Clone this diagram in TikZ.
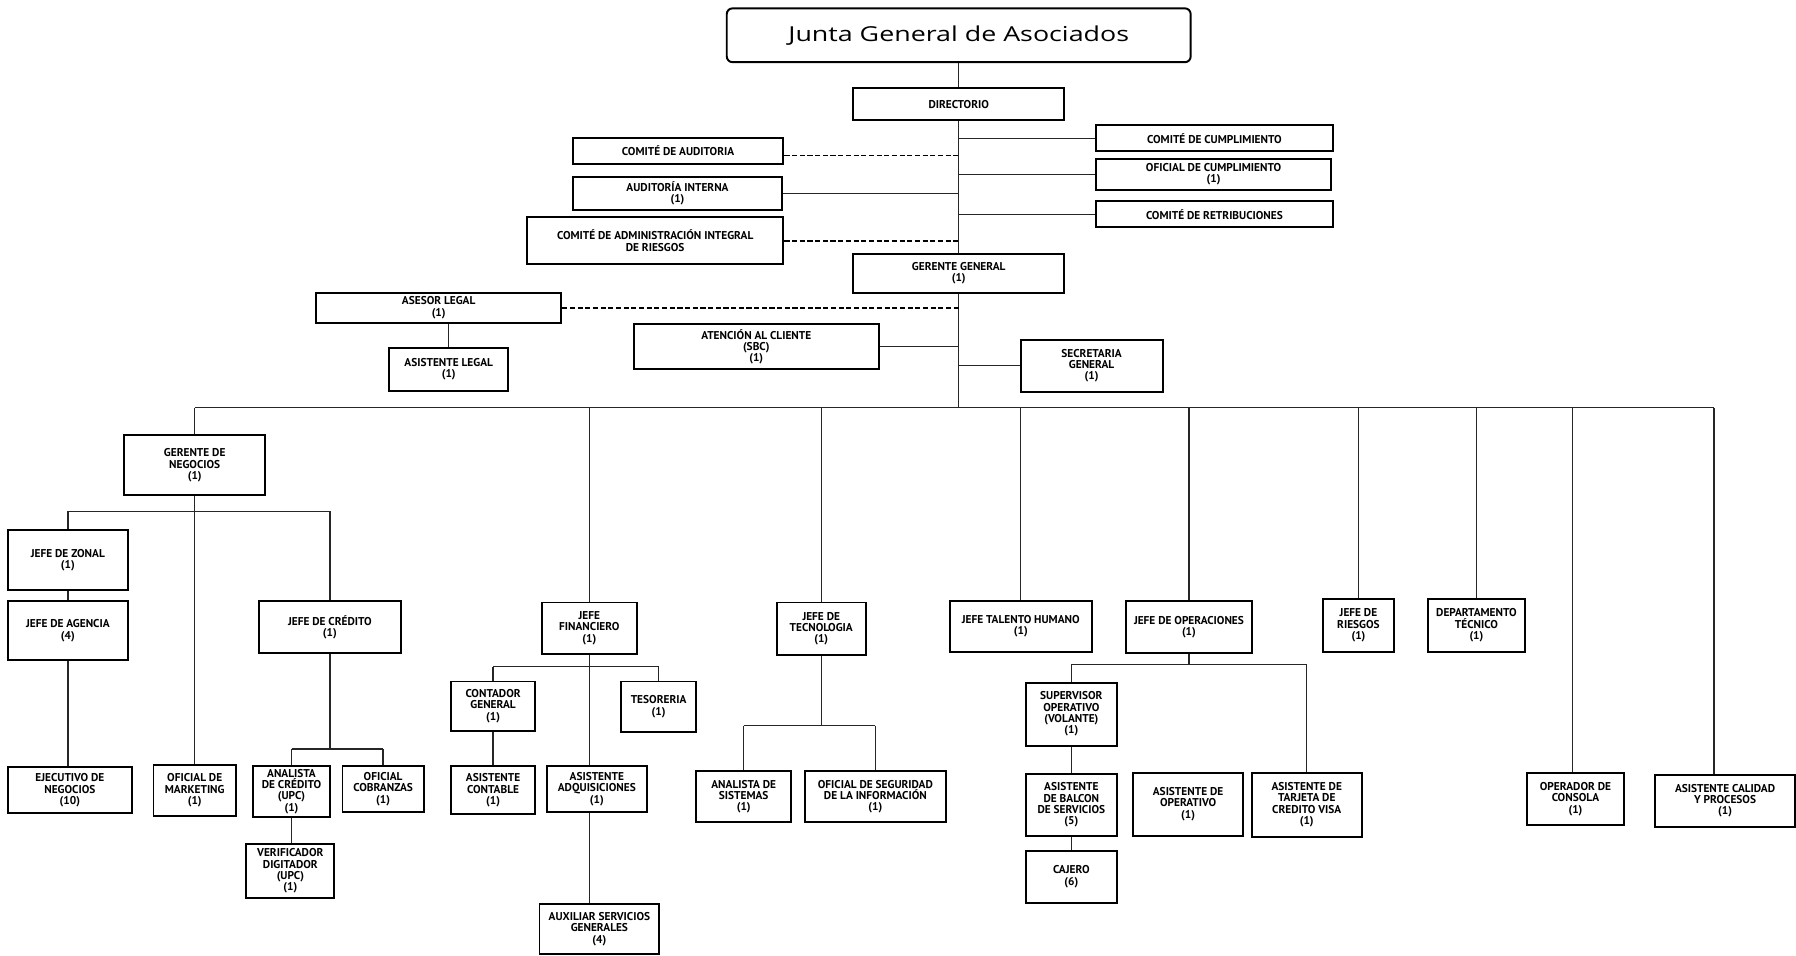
\documentclass[tikz,border=0pt]{standalone}
\usepackage{fontspec}
\setmainfont{PT Sans}
\newfontfamily\titlefont{Open Sans}

% box given by its left, top, right and bottom edges
\newcommand{\orgbox}[6]{%
  \node[box, minimum width={(#4-#2)*1pt}, minimum height={(#5-#3)*1pt}]
    (#1) at ({(#2+#4)/2},{(#3+#5)/2}) {#6};}

\begin{document}
\begin{tikzpicture}[x=1pt,y=-1pt,
  box/.style={draw=black, line width=1.7pt, fill=white, inner sep=1pt, align=center,
    text=black, font=\bfseries\fontsize{9.9}{9.9}\selectfont},
  link/.style={draw=black!85, line width=1.2pt},
  dashlink/.style={draw=black, line width=1.5pt, dash pattern=on 4.5pt off 2.2pt},
]
\useasboundingbox[fill=white] (0,0) rectangle (1568,834);

% ---------- top management ----------
\node[draw, line width=1.7pt, rounded corners=5pt, minimum width=405pt, minimum height=47pt,
  text=black] (title) at (837,30.8)
  {\scalebox{1.3}[1]{\titlefont\fontsize{18}{20}\selectfont Junta General de Asociados}};

\orgbox{dir}{745}{77}{929}{105}{DIRECTORIO}
\orgbox{gg}{745}{222}{929}{255.5}{GERENTE GENERAL\\(1)}

\orgbox{ccum}{957}{109.5}{1163.5}{131.8}{COMITÉ DE CUMPLIMIENTO}
\orgbox{ocum}{957}{139}{1162}{165.5}{OFICIAL DE CUMPLIMIENTO\\(1)}
\orgbox{cret}{957}{175.5}{1163.5}{198.5}{COMITÉ DE RETRIBUCIONES}

\orgbox{caud}{500}{120.2}{684}{143.2}{COMITÉ DE AUDITORIA}
\orgbox{aint}{500}{154.5}{683}{183.3}{AUDITORÍA INTERNA\\(1)}
\orgbox{cair}{460}{189.5}{684}{230.8}{COMITÉ DE ADMINISTRACIÓN INTEGRAL\\DE RIESGOS}

\orgbox{asl}{276}{255.5}{490}{281.7}{ASESOR LEGAL\\(1)}
\orgbox{asil}{340}{303.5}{443.5}{341}{ASISTENTE LEGAL\\(1)}
\orgbox{atc}{553.5}{283}{767}{322.4}{ATENCIÓN AL CLIENTE\\(SBC)\\(1)}
\orgbox{sec}{891}{296.5}{1015}{342}{SECRETARIA\\GENERAL\\(1)}

% ---------- first level areas ----------
\orgbox{gn}{108.6}{380}{231.4}{432.4}{GERENTE DE\\NEGOCIOS\\(1)}
\orgbox{jf}{473}{526}{556}{571}{JEFE\\FINANCIERO\\(1)}
\orgbox{jt}{678}{526}{756}{572}{JEFE DE\\TECNOLOGIA\\(1)}
\orgbox{jth}{829.4}{524.7}{953}{569}{JEFE TALENTO HUMANO\\(1)}
\orgbox{jo}{983}{524.7}{1093}{570}{JEFE DE OPERACIONES\\(1)}
\orgbox{jr}{1155}{523}{1217}{569}{JEFE DE\\RIESGOS\\(1)}
\orgbox{dt}{1247}{523}{1331}{569}{DEPARTAMENTO\\TÉCNICO\\(1)}
\orgbox{oc}{1332.9}{674.6}{1418}{720.3}{OPERADOR DE\\CONSOLA\\(1)}
\orgbox{acp}{1444.6}{676.6}{1567.5}{721.7}{ASISTENTE CALIDAD\\Y PROCESOS\\(1)}

% ---------- business ----------
\orgbox{jz}{7}{463}{111.5}{515}{JEFE DE ZONAL\\(1)}
\orgbox{ja}{7}{525}{111.5}{576}{JEFE DE AGENCIA\\(4)}
\orgbox{en}{7}{670}{115}{710}{EJECUTIVO DE\\NEGOCIOS\\(10)}
\orgbox{om}{134}{668}{206}{712}{OFICIAL DE\\MARKETING\\(1)}
\orgbox{jc}{226}{525}{350}{570}{JEFE DE CRÉDITO\\(1)}
\orgbox{acr}{221}{669}{288}{713}{ANALISTA\\DE CRÉDITO\\(UPC)\\(1)}
\orgbox{oco}{299}{669}{370}{709}{OFICIAL\\COBRANZAS\\(1)}
\orgbox{vd}{215}{737}{292}{784}{VERIFICADOR\\DIGITADOR\\(UPC)\\(1)}

% ---------- finance ----------
\orgbox{cg}{394}{595}{467}{638}{CONTADOR\\GENERAL\\(1)}
\orgbox{tes}{542}{595}{608}{639}{TESORERIA\\(1)}
\orgbox{ac}{394}{669}{467}{711}{ASISTENTE\\CONTABLE\\(1)}
\orgbox{aad}{477.5}{669}{564.6}{709}{ASISTENTE\\ADQUISICIONES\\(1)}
\orgbox{aux}{471}{789}{575.6}{833}{AUXILIAR SERVICIOS\\GENERALES\\(4)}

% ---------- technology ----------
\orgbox{asis}{608}{673}{690.6}{718}{ANALISTA DE\\SISTEMAS\\(1)}
\orgbox{osi}{702.5}{673}{826}{718}{OFICIAL DE SEGURIDAD\\DE LA INFORMACIÓN\\(1)}

% ---------- operations ----------
\orgbox{sov}{895.7}{596}{975}{651}{SUPERVISOR\\OPERATIVO\\(VOLANTE)\\(1)}
\orgbox{abs}{895.7}{676}{975}{729.6}{ASISTENTE\\DE BALCON\\DE SERVICIOS\\(5)}
\orgbox{caj}{895.7}{742.7}{975}{788}{CAJERO\\(6)}
\orgbox{aop}{989}{674.6}{1085.5}{729.6}{ASISTENTE DE\\OPERATIVO\\(1)}
\orgbox{atv}{1092.8}{674.6}{1188.9}{730.5}{ASISTENTE DE\\TARJETA DE\\CREDITO VISA\\(1)}

% ---------- connectors: spine and staff ----------
\coordinate (bus) at (837,356);
\draw[link] (title.south) -- (dir.north);
\draw[link] (dir.south) -- (gg.north);
\draw[link] (gg.south) -- (bus);

\draw[link] (dir.south |- ccum.west) -- (ccum.west);
\draw[link] (dir.south |- ocum.west) -- (ocum.west);
\draw[link] (dir.south |- cret.west) -- (cret.west);

\coordinate (caudE) at ([yshift=-4pt]caud.east);
\draw[dashlink] (caudE) -- (caudE -| dir.south);
\draw[link] (aint.east) -- (aint.east -| dir.south);
\draw[dashlink] (cair.east) -- (cair.east -| dir.south);

\draw[dashlink] (asl.east) -- (asl.east -| gg.south);
\draw[link] (asil.north) -- (asil.north |- asl.south);
\draw[link] (atc.east) -- (atc.east -| gg.south);
\draw[link] (gg.south |- sec.west) -- (sec.west);

% ---------- connectors: main bus ----------
\coordinate (ocTop) at ([xshift=-2.7pt]oc.north);
\coordinate (acpTop) at ([xshift=-9.6pt]acp.north);
\draw[link] (gn.north |- bus) -- (acpTop |- bus);
\foreach \n in {gn,jf,jt,jth,jo,jr,dt}
  \draw[link] (\n.north |- bus) -- (\n.north);
\draw[link] (ocTop |- bus) -- (ocTop);
\draw[link] (acpTop |- bus) -- (acpTop);

% ---------- business branch ----------
\coordinate (gnbus) at (170,446.5);
\draw[link] (jz.north |- gnbus) -- (jc.north |- gnbus);
\draw[link] (jz.north |- gnbus) -- (jz.north);
\draw[link] (jc.north |- gnbus) -- (jc.north);
\draw[link] (gn.south) -- (om.north);
\draw[link] (jz.south) -- (ja.north);
\draw[link] (ja.south) -- (ja.south |- en.north);
\coordinate (jcbus) at (288,654);
\draw[link] (jc.south) -- (jcbus);
\draw[link] (acr.north |- jcbus) -- (oco.north |- jcbus);
\draw[link] (acr.north |- jcbus) -- (acr.north);
\draw[link] (oco.north |- jcbus) -- (oco.north);
\draw[link] (acr.south) -- (acr.south |- vd.north);

% ---------- finance branch ----------
\coordinate (jfbus) at (514.5,582);
\draw[link] (jf.south) -- (jf.south |- aad.north);
\draw[link] (cg.north |- jfbus) -- (tes.north |- jfbus);
\draw[link] (cg.north |- jfbus) -- (cg.north);
\draw[link] (tes.north |- jfbus) -- (tes.north);
\draw[link] (cg.south) -- (ac.north);
\draw[link] (jf.south |- aad.south) -- (jf.south |- aux.north);

% ---------- technology branch ----------
\coordinate (jtbus) at (717,633.6);
\draw[link] (jt.south) -- (jtbus);
\draw[link] (asis.north |- jtbus) -- (osi.north |- jtbus);
\draw[link] (asis.north |- jtbus) -- (asis.north);
\draw[link] (osi.north |- jtbus) -- (osi.north);

% ---------- operations branch ----------
\coordinate (jobus) at (1038,580);
\draw[link] (jo.south) -- (jobus);
\draw[link] (sov.north |- jobus) -- (atv.north |- jobus);
\draw[link] (sov.north |- jobus) -- (sov.north);
\draw[link] (atv.north |- jobus) -- (atv.north);
\draw[link] (sov.south) -- (abs.north);
\draw[link] (abs.south) -- (caj.north);
\end{tikzpicture}
\end{document}
